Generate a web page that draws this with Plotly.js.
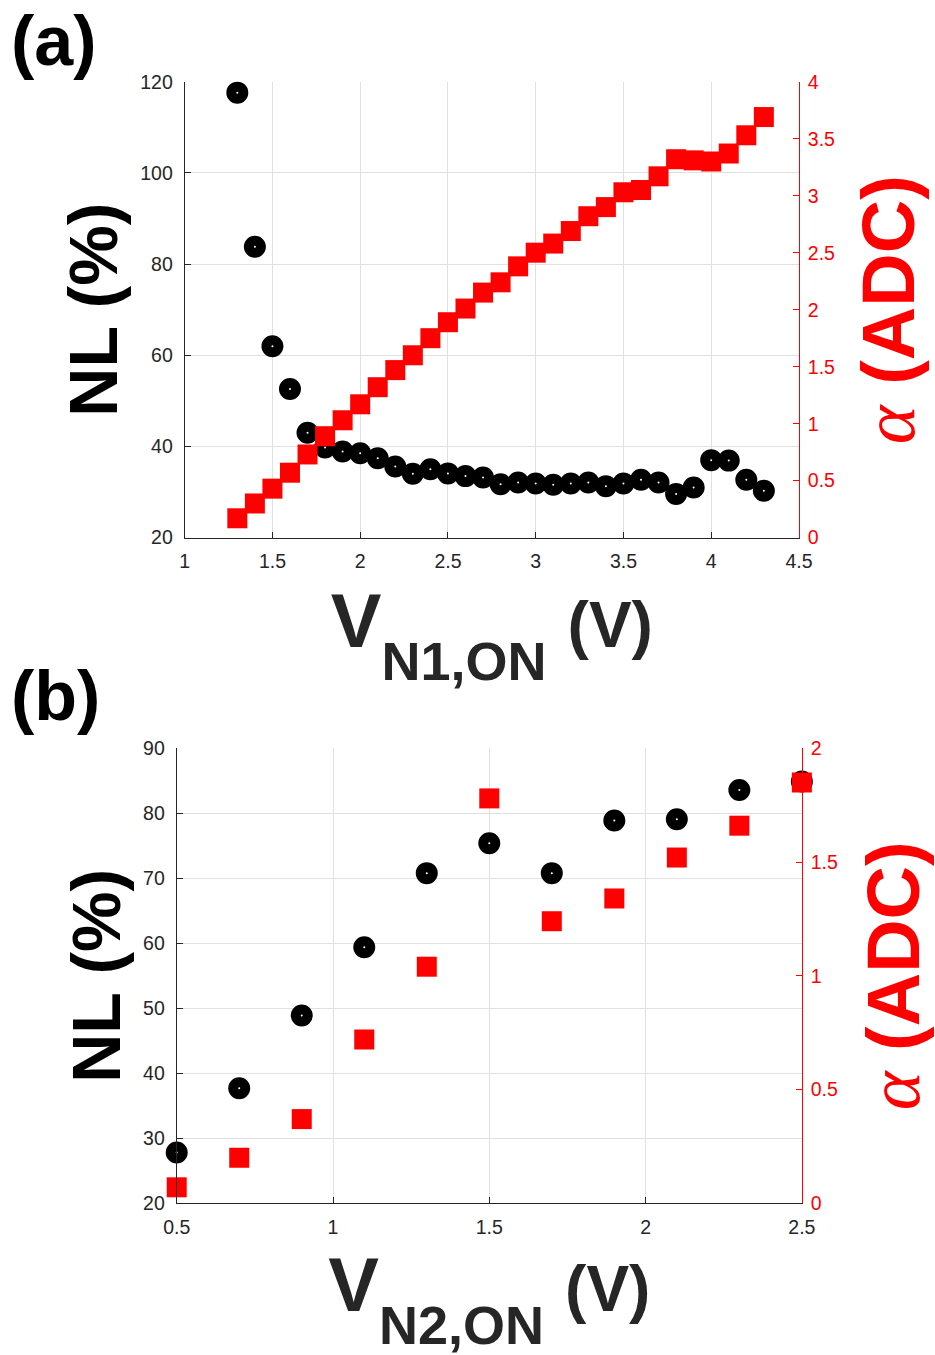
<!DOCTYPE html>
<html>
<head>
<meta charset="utf-8">
<script src="https://cdn.plot.ly/plotly-3.0.1.min.js"></script>
<style>html,body{margin:0;padding:0;background:#fff;}#chart{width:935px;height:1355px;}</style>
</head>
<body>
<div id="chart"></div>
<script>
// ---- Panel (a) data ----
const vN1 = [1.3,1.4,1.5,1.6,1.7,1.8,1.9,2.0,2.1,2.2,2.3,2.4,2.5,2.6,2.7,2.8,2.9,3.0,3.1,3.2,3.3,3.4,3.5,3.6,3.7,3.8,3.9,4.0,4.1,4.2,4.3];
const nlA = [117.6,83.8,62.0,52.6,43.0,39.8,38.9,38.5,37.4,35.6,34.0,35.0,34.1,33.5,33.2,31.7,32.1,31.9,31.6,31.9,32.1,31.3,31.9,32.7,32.1,29.6,31.0,37.0,36.9,32.7,30.3];
const alphaA = [0.17,0.30,0.43,0.57,0.73,0.89,1.03,1.17,1.32,1.47,1.60,1.75,1.89,2.01,2.15,2.24,2.38,2.50,2.58,2.69,2.82,2.90,3.03,3.05,3.17,3.32,3.31,3.30,3.37,3.53,3.69];

// ---- Panel (b) data ----
const vN2 = [0.5,0.7,0.9,1.1,1.3,1.5,1.7,1.9,2.1,2.3,2.5];
const nlB = [27.8,37.7,48.9,59.4,70.8,75.4,70.8,78.9,79.1,83.6,84.9];
const alphaB = [0.07,0.20,0.37,0.72,1.04,1.78,1.24,1.34,1.52,1.66,1.85];

// ---- Tick labels ----
const xTicksA = [1,1.5,2,2.5,3,3.5,4,4.5];
const xTickTextA = ["1","1.5","2","2.5","3","3.5","4","4.5"];
const yTicksA = [20,40,60,80,100,120];
const yTickTextA = ["20","40","60","80","100","120"];
const y2TicksA = [0,0.5,1,1.5,2,2.5,3,3.5,4];
const y2TickTextA = ["0","0.5","1","1.5","2","2.5","3","3.5","4"];
const xTicksB = [0.5,1,1.5,2,2.5];
const xTickTextB = ["0.5","1","1.5","2","2.5"];
const yTicksB = [20,30,40,50,60,70,80,90];
const yTickTextB = ["20","30","40","50","60","70","80","90"];
const y2TicksB = [0,0.5,1,1.5,2];
const y2TickTextB = ["0","0.5","1","1.5","2"];

const FONT = "Liberation Sans, Arial, sans-serif";
const DARK = "#262626";
const GRID = "#e0e0e0";
const RED = "#ff0000";

const circleMarker = {symbol:"circle", size:12, color:"#ffffff", line:{color:"#000000", width:10}};
const squareMarker = {symbol:"square", size:20, color:RED, line:{width:0}};

const traces = [
  {x:vN1, y:nlA, xaxis:"x", yaxis:"y", type:"scatter", mode:"markers", marker:circleMarker, cliponaxis:false, name:"NL"},
  {x:vN1, y:alphaA, xaxis:"x", yaxis:"y2", type:"scatter", mode:"markers", marker:squareMarker, cliponaxis:false, name:"α"},
  {x:vN2, y:nlB, xaxis:"x2", yaxis:"y3", type:"scatter", mode:"markers", marker:circleMarker, cliponaxis:false, name:"NL"},
  {x:vN2, y:alphaB, xaxis:"x2", yaxis:"y4", type:"scatter", mode:"markers", marker:squareMarker, cliponaxis:false, name:"α"}
];

const tickFont = {family:FONT, size:19.5, color:DARK};
const tickFontR = {family:FONT, size:19.5, color:RED};

function xTitle(sub) {
  return 'V<span style="font-size:54px;baseline-shift:-33px">' + sub + '</span> <span style="font-size:64px">(V)</span>';
}

function xAxis(domain, anchor, range, tv, tt, title) {
  return {domain:domain, anchor:anchor, range:range, tickvals:tv, ticktext:tt,
    showgrid:true, gridcolor:GRID, gridwidth:1, zeroline:false, showline:true, linecolor:DARK, linewidth:1,
    ticks:"inside", ticklen:6, tickcolor:DARK, tickfont:tickFont, ticklabelstandoff:6, fixedrange:true,
    title:{text:title, font:{family:FONT, size:76, color:DARK, weight:700}, standoff:22}};
}
function yAxisL(domain, anchor, range, tv, tt) {
  return {domain:domain, anchor:anchor, range:range, tickvals:tv, ticktext:tt,
    showgrid:true, gridcolor:GRID, gridwidth:1, zeroline:false, showline:true, linecolor:DARK, linewidth:1,
    ticks:"inside", ticklen:6, tickcolor:DARK, tickfont:tickFont, ticklabelstandoff:7, fixedrange:true,
    title:{text:"NL (%)", font:{family:FONT, size:68, color:"#000000", weight:700}, standoff:0}};
}
function yAxisR(overlay, anchor, range, tv, tt, so) {
  return {overlaying:overlay, anchor:anchor, side:"right", range:range, tickvals:tv, ticktext:tt,
    showgrid:false, zeroline:false, showline:true, linecolor:RED, linewidth:1,
    ticks:"inside", ticklen:6, tickcolor:RED, tickfont:tickFontR, ticklabelstandoff:4, fixedrange:true,
    title:{text:'<span style="font-family:\'Liberation Serif\',serif;font-style:italic;font-weight:400">α</span> (ADC)',
      font:{family:FONT, size:74, color:RED, weight:700}, standoff:so}};
}

const layout = {
  width:935, height:1355,
  margin:{l:0, r:0, t:0, b:0},
  paper_bgcolor:"#ffffff", plot_bgcolor:"#ffffff",
  showlegend:false,
  font:{family:FONT, color:DARK},
  xaxis: xAxis([0.1975,0.8545], "y", [1,4.5], xTicksA, xTickTextA, xTitle("N1,ON")),
  yaxis: yAxisL([0.6032,0.9397], "x", [20,120], yTicksA, yTickTextA),
  yaxis2: yAxisR("y", "x", [0,4], y2TicksA, y2TickTextA, 28),
  xaxis2: xAxis([0.1890,0.8576], "y3", [0.5,2.5], xTicksB, xTickTextB, xTitle("N2,ON")),
  yaxis3: yAxisL([0.1120,0.4477], "x2", [20,90], yTicksB, yTickTextB),
  yaxis4: yAxisR("y3", "x2", [0,2], y2TicksB, y2TickTextB, 30),
  annotations:[
    {text:"(a)", xref:"paper", yref:"paper", x:0.01, y:1.0, xanchor:"left", yanchor:"top", showarrow:false,
      font:{family:FONT, size:70, color:"#000000", weight:700}},
    {text:"(b)", xref:"paper", yref:"paper", x:0.01, y:0.4864, xanchor:"left", yanchor:"middle", showarrow:false,
      font:{family:FONT, size:70, color:"#000000", weight:700}}
  ]
};

Plotly.newPlot("chart", traces, layout, {displayModeBar:false, staticPlot:true});
</script>
</body>
</html>
